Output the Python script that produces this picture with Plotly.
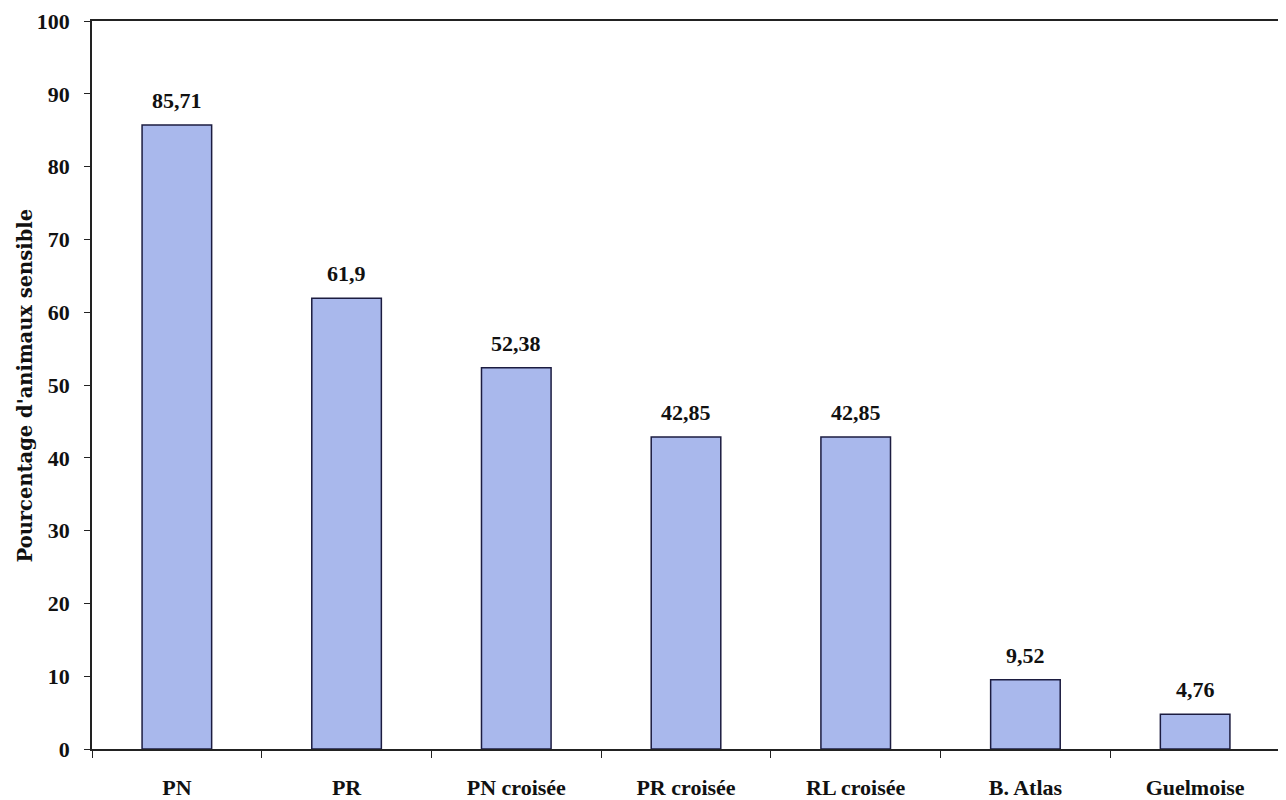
import plotly.graph_objects as go

categories = ["PN", "PR", "PN croisée", "PR croisée", "RL croisée", "B. Atlas", "Guelmoise"]
values = [85.71, 61.9, 52.38, 42.85, 42.85, 9.52, 4.76]
value_labels = ["85,71", "61,9", "52,38", "42,85", "42,85", "9,52", "4,76"]
y_ticks = [0, 10, 20, 30, 40, 50, 60, 70, 80, 90, 100]
y_title = "Pourcentage d'animaux sensible"

font_family = "Liberation Serif, Times New Roman, serif"

fig = go.Figure(go.Bar(
    x=categories,
    y=values,
    marker=dict(color="#A9B8EC", line=dict(color="#1c1c40", width=1.5)),
))

for cat, val, lab in zip(categories, values, value_labels):
    fig.add_annotation(
        x=cat, y=val, text=lab, showarrow=False,
        yanchor="bottom", yshift=10,
        font=dict(family=font_family, size=22, color="#111111", weight="bold"),
    )

fig.add_annotation(
    xref="paper", yref="paper", x=-0.056, y=0.5,
    text=y_title, textangle=-90, showarrow=False,
    xanchor="center", yanchor="middle",
    font=dict(family="DejaVu Serif, serif", size=19.5, color="#111111", weight="bold"),
)

fig.update_layout(
    width=1278, height=792,
    margin=dict(l=84, r=6, t=13, b=51),
    paper_bgcolor="white", plot_bgcolor="white",
    bargap=0.59,
    showlegend=False,
    font=dict(family=font_family, size=22, color="#111111", weight="bold"),
)
fig.update_xaxes(
    showline=True, linecolor="#222222", linewidth=1.5, mirror=True,
    ticks="outside", ticklen=7, tickcolor="#222222", tickson="boundaries",
    tickfont=dict(family=font_family, size=22, weight="bold"),
    ticklabelstandoff=18,
    showgrid=False, automargin=False,
)
fig.update_yaxes(
    range=[0, 100], tickvals=y_ticks,
    showline=True, linecolor="#222222", linewidth=1.5, mirror=True,
    ticks="outside", ticklen=6, tickcolor="#222222",
    tickfont=dict(family=font_family, size=22, weight="bold"),
    ticklabelstandoff=10,
    showgrid=False, zeroline=False, automargin=False,
)

fig.write_html("out.html")
